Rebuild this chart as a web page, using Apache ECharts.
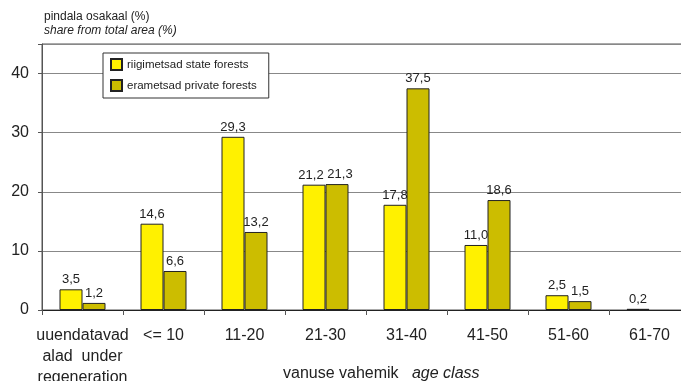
<!DOCTYPE html>
<html><head><meta charset="utf-8">
<script src="https://cdn.jsdelivr.net/npm/echarts@6/dist/echarts.min.js"></script>
<style>html,body{margin:0;padding:0;background:#fff}#c{width:681px;height:381px}</style>
</head><body><div id="c"></div>
<script>
var categories = ['uuendatavad\nalad  under\nregeneration', '<= 10', '11-20', '21-30', '31-40', '41-50', '51-60', '61-70'];
var stateForests = [3.5, 14.6, 29.3, 21.2, 17.8, 11.0, 2.5, 0.2];
var privateForests = [1.2, 6.6, 13.2, 21.3, 37.5, 18.6, 1.5, null];
var yTicks = [0, 10, 20, 30, 40];
var seriesNames = ['riigimetsad state forests', 'erametsad private forests'];

var F = 'Liberation Sans, Arial, sans-serif';
function fmt(p){ return p.value == null ? '' : p.value.toFixed(1).replace('.', ','); }
// nudge the two adjacent labels in 21-30 apart so they don't collide
function withNudge(arr, dx){
  return arr.map(function(v, i){
    return i === 3 ? { value: v, label: { offset: [dx, 0] } } : v;
  });
}
var chart = echarts.init(document.getElementById('c'));
chart.setOption({
  animation: false,
  backgroundColor: '#fff',
  grid: { left: 42, top: 44, width: 648, height: 266, outerBoundsMode: 'none', containLabel: false,
          show: true, borderColor: '#555', borderWidth: 1 },
  legend: {
    orient: 'vertical', left: 103, top: 53, icon: 'rect',
    backgroundColor: '#fff', borderColor: '#333', borderWidth: 1,
    padding: [5, 12, 6, 7], itemWidth: 11, itemHeight: 11, itemGap: 8,
    textStyle: { fontFamily: F, fontSize: 11.5, color: '#222' },
    data: seriesNames
  },
  xAxis: {
    type: 'category', data: categories,
    axisLine: { lineStyle: { color: '#222', width: 1 } },
    axisTick: { show: true, length: 5, lineStyle: { color: '#555' } },
    axisLabel: { fontFamily: F, fontSize: 16, color: '#222', margin: 15, lineHeight: 21, interval: 0 }
  },
  yAxis: {
    type: 'value', min: 0, max: 45, interval: 10,
    axisLine: { show: true, lineStyle: { color: '#555' } },
    axisTick: { show: true, length: 4, lineStyle: { color: '#555' } },
    splitLine: { lineStyle: { color: '#888', width: 1 } },
    axisLabel: { fontFamily: F, fontSize: 16, color: '#222', margin: 13,
      formatter: function(v){ return yTicks.indexOf(v) >= 0 ? String(v) : ''; } }
  },
  series: [
    { name: seriesNames[0], type: 'bar', data: withNudge(stateForests, -3), barWidth: 23, barGap: '0%',
      itemStyle: { color: '#FFF100', borderColor: '#222', borderWidth: 1 },
      label: { show: true, position: 'top', distance: 3, fontFamily: F, fontSize: 13, color: '#222', formatter: fmt } },
    { name: seriesNames[1], type: 'bar', data: withNudge(privateForests, 3), barWidth: 23,
      itemStyle: { color: '#CCBD00', borderColor: '#222', borderWidth: 1 },
      label: { show: true, position: 'top', distance: 3, fontFamily: F, fontSize: 13, color: '#222', formatter: fmt } }
  ],
  graphic: [
    { type: 'text', left: 44, top: 11, style: { text: 'pindala osakaal (%)', font: '12px ' + F, fill: '#222' } },
    { type: 'text', left: 44, top: 25, style: { text: 'share from total area (%)', font: 'italic 12px ' + F, fill: '#222' } },
    { type: 'text', left: 283, top: 366, style: { rich: { a: { font: '16px ' + F, fill: '#222' }, b: { font: 'italic 16px ' + F, fill: '#222' } }, text: '{a|vanuse vahemik   }{b|age class}' } }
  ]
});
</script></body></html>
